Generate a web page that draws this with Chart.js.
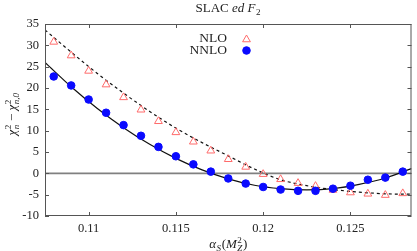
<!DOCTYPE html>
<html>
<head>
<meta charset="utf-8">
<script src="https://cdn.jsdelivr.net/npm/chart.js@4/dist/chart.umd.min.js"></script>
<style>
  body { margin: 0; background: #fff; }
</style>
</head>
<body>
<canvas id="chart" width="417" height="251"></canvas>
<script>
// alpha_S(M_Z^2) values of the scan
const alphaS = [0.108, 0.109, 0.110, 0.111, 0.112, 0.113, 0.114, 0.115, 0.116, 0.117, 0.118,
  0.119, 0.120, 0.121, 0.122, 0.123, 0.124, 0.125, 0.126, 0.127, 0.128];
const nloChi2 = [30.8, 27.6, 24.0, 20.8, 17.8, 14.9, 12.2, 9.6, 7.4, 5.3, 3.3,
  1.5, -0.2, -1.4, -2.3, -3.0, -3.9, -4.5, -4.8, -5.1, -4.7];
const nnloChi2 = [22.7, 20.6, 17.3, 14.2, 11.3, 8.8, 6.2, 4.0, 2.1, 0.4, -1.2,
  -2.4, -3.2, -3.8, -4.1, -4.1, -3.6, -2.9, -1.5, -1.0, 0.4];

// fit curves
const fitX = [0.1075, 0.109, 0.1105, 0.112, 0.1135, 0.115, 0.1165, 0.118, 0.1195, 0.121, 0.1225, 0.124, 0.1255, 0.127, 0.1285];
const nloFit = [33.6, 28.4, 23.4, 18.8, 14.5, 10.6, 7.2, 4.1, 1.0, -1.5, -2.9, -3.8, -4.4, -4.8, -4.9];
const nnloFit = [26.0, 20.3, 15.2, 10.7, 6.8, 3.5, 0.8, -1.3, -2.8, -3.6, -3.9, -3.6, -2.6, -1.1, 1.1];

const xRange = [0.1075, 0.1285];
const xTickValues = [0.11, 0.115, 0.12, 0.125];
const xTickLabels = ['0.11', '0.115', '0.12', '0.125'];
const yRange = [-10, 35];

const serif = '"Liberation Serif", "Times New Roman", serif';
const textColor = '#222';
const frameColor = '#555';

const pts = (xs, ys) => xs.map((x, i) => ({ x, y: ys[i] }));

function fnt(size, it) { return (it ? 'italic ' : '') + size + 'px ' + serif; }

// draws text pieces with optional super/subscripts, centred on x
function drawRich(ctx, parts, x, y, size) {
  const small = size * 0.7;
  let w = 0;
  const seg = parts.map(p => {
    ctx.font = fnt(size, p.it);
    const bw = ctx.measureText(p.t).width;
    let sw = 0;
    if (p.sup) { ctx.font = fnt(small, false); sw = Math.max(sw, ctx.measureText(p.sup).width); }
    if (p.sub) { ctx.font = fnt(small, p.subIt); sw = Math.max(sw, ctx.measureText(p.sub).width); }
    w += bw + (sw ? sw + 1 : 0);
    return { bw, sw };
  });
  let cx = x - w / 2;
  ctx.textAlign = 'left';
  ctx.textBaseline = 'alphabetic';
  parts.forEach((p, i) => {
    ctx.font = fnt(size, p.it);
    ctx.fillText(p.t, cx, y);
    cx += seg[i].bw;
    if (p.sup) { ctx.font = fnt(small, false); ctx.fillText(p.sup, cx + 0.5, y - size * 0.4); }
    if (p.sub) { ctx.font = fnt(small, p.subIt); ctx.fillText(p.sub, cx + 0.5, y + size * 0.22); }
    if (seg[i].sw) cx += seg[i].sw + 1;
  });
}

const titleParts = [{ t: 'SLAC ' }, { t: 'ed F', it: true, sub: '2' }];
const xLabelParts = [{ t: 'α', it: true, sub: 'S', subIt: true }, { t: '(' }, { t: 'M', it: true, sup: '2', sub: 'Z', subIt: true }, { t: ')' }];
const yLabelParts = [{ t: 'χ', it: true, sup: '2', sub: 'n', subIt: true }, { t: ' − ' }, { t: 'χ', it: true, sup: '2', sub: 'n,0', subIt: true }];

const framePlugin = {
  id: 'frame',
  afterDatasetsDraw(chart) {
    const { ctx, chartArea: a, scales: { x, y } } = chart;
    ctx.save();
    ctx.strokeStyle = frameColor;
    ctx.lineWidth = 1;
    ctx.strokeRect(a.left + 0.5, a.top + 0.5, a.right - a.left - 1, a.bottom - a.top - 1);
    ctx.beginPath();
    y.ticks.forEach(t => {
      const py = Math.round(y.getPixelForValue(t.value)) + 0.5;
      ctx.moveTo(a.left, py); ctx.lineTo(a.left + 4, py);
      ctx.moveTo(a.right, py); ctx.lineTo(a.right - 4, py);
    });
    x.ticks.forEach(t => {
      const px = Math.round(x.getPixelForValue(t.value)) + 0.5;
      ctx.moveTo(px, a.bottom); ctx.lineTo(px, a.bottom - 4);
      ctx.moveTo(px, a.top); ctx.lineTo(px, a.top + 4);
    });
    ctx.stroke();
    ctx.restore();
  },
  afterDraw(chart) {
    const { ctx, chartArea: a } = chart;
    const mid = (a.left + a.right) / 2;
    ctx.save();
    ctx.fillStyle = textColor;
    drawRich(ctx, titleParts, mid, 12, 13);
    drawRich(ctx, xLabelParts, mid, 248, 13);
    ctx.translate(16, 114);
    ctx.rotate(-Math.PI / 2);
    drawRich(ctx, yLabelParts, 0, 0, 13);
    ctx.restore();

    // legend
    ctx.save();
    ctx.fillStyle = textColor;
    ctx.font = fnt(13.5, false);
    ctx.textAlign = 'right';
    ctx.textBaseline = 'middle';
    ctx.fillText('NLO', 227, 38.5);
    ctx.fillText('NNLO', 227, 50.5);
    ctx.strokeStyle = '#ff6b6b';
    ctx.fillStyle = 'rgba(0,0,0,0)';
    ctx.lineWidth = 1;
    Chart.helpers.drawPoint(ctx, { pointStyle: 'triangle', radius: 4.5, rotation: 0, borderWidth: 1 }, 246.5, 39.5);
    ctx.fillStyle = '#0a0aff';
    ctx.strokeStyle = '#0a0aff';
    Chart.helpers.drawPoint(ctx, { pointStyle: 'circle', radius: 3.8, rotation: 0, borderWidth: 1 }, 246.5, 50.5);
    ctx.restore();
  }
};

new Chart(document.getElementById('chart'), {
  type: 'scatter',
  data: {
    datasets: [
      {
        label: 'NNLO',
        data: pts(alphaS, nnloChi2),
        pointStyle: 'circle',
        pointRadius: 3.8,
        backgroundColor: '#0a0aff',
        borderColor: '#0a0aff',
        borderWidth: 1,
        order: 0
      },
      {
        label: 'NLO',
        data: pts(alphaS, nloChi2),
        pointStyle: 'triangle',
        pointRadius: 4.5,
        backgroundColor: 'rgba(0,0,0,0)',
        borderColor: '#ff6b6b',
        borderWidth: 1,
        order: 1
      },
      {
        label: 'NNLO fit',
        data: pts(fitX, nnloFit),
        showLine: true,
        pointRadius: 0,
        borderColor: '#111',
        borderWidth: 1.2,
        cubicInterpolationMode: 'monotone',
        order: 2
      },
      {
        label: 'NLO fit',
        data: pts(fitX, nloFit),
        showLine: true,
        pointRadius: 0,
        borderColor: '#111',
        borderWidth: 1.2,
        borderDash: [3, 3],
        cubicInterpolationMode: 'monotone',
        order: 3
      },
      {
        label: 'zero',
        data: pts(xRange, [0, 0]),
        showLine: true,
        pointRadius: 0,
        borderColor: '#808080',
        borderWidth: 1.6,
        order: 4
      }
    ]
  },
  options: {
    responsive: false,
    devicePixelRatio: 1,
    animation: false,
    layout: { padding: { top: 24, right: 0, left: 0, bottom: 0 } },
    plugins: { legend: { display: false }, tooltip: { enabled: false } },
    scales: {
      x: {
        type: 'linear',
        min: xRange[0],
        max: xRange[1],
        afterBuildTicks: s => { s.ticks = xTickValues.map(v => ({ value: v })); },
        afterFit: s => { s.height = 35; },
        grid: { display: false, drawTicks: false },
        border: { display: false },
        ticks: {
          padding: 5,
          color: textColor,
          font: { family: serif, size: 12.5 },
          maxRotation: 0,
          callback: (v, i) => xTickLabels[i]
        }
      },
      y: {
        min: yRange[0],
        max: yRange[1],
        afterFit: s => { s.width = 45; },
        grid: { display: false, drawTicks: false },
        border: { display: false },
        ticks: {
          stepSize: 5,
          padding: 6,
          color: textColor,
          font: { family: serif, size: 12.5 }
        }
      }
    }
  },
  plugins: [framePlugin]
});
</script>
</body>
</html>
